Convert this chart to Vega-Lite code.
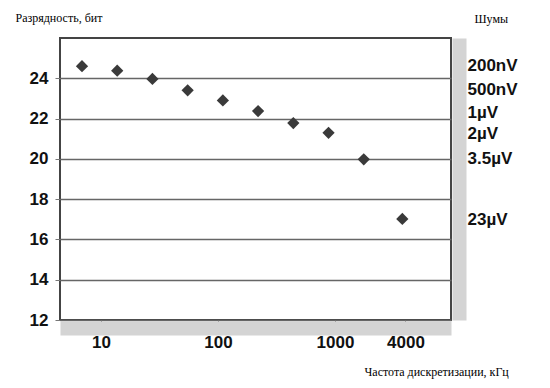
{
  "$schema": "https://vega.github.io/schema/vega-lite/v6.json",
  "width": 391,
  "height": 282,
  "autosize": "none",
  "padding": {"left": 60, "top": 38, "right": 99, "bottom": 68},
  "background": "white",
  "view": {"stroke": "#444444", "strokeWidth": 2},
  "config": {
    "axis": {
      "labelFont": "Liberation Sans",
      "labelFontWeight": "bold",
      "labelFontSize": 17,
      "labelColor": "#111111",
      "titleFont": "Liberation Serif",
      "titleFontWeight": "normal",
      "titleFontSize": 12,
      "titleColor": "#000000",
      "tickColor": "#777777"
    }
  },
  "data": {
    "values": [
      {"freq": 6.875, "bits": 24.6},
      {"freq": 13.75, "bits": 24.38},
      {"freq": 27.5, "bits": 23.97},
      {"freq": 55, "bits": 23.4},
      {"freq": 110, "bits": 22.9},
      {"freq": 220, "bits": 22.37},
      {"freq": 440, "bits": 21.78},
      {"freq": 880, "bits": 21.29},
      {"freq": 1760, "bits": 19.98},
      {"freq": 3760, "bits": 17.02}
    ]
  },
  "layer": [
    {
      "mark": {"type": "point", "shape": "diamond", "filled": true, "size": 150, "color": "#3a3a3a", "opacity": 1},
      "encoding": {
        "x": {
          "field": "freq", "type": "quantitative",
          "scale": {"type": "log", "domain": [4.46, 9800], "nice": false},
          "axis": {
            "values": [10, 100, 1000, 4000], "format": "d",
            "grid": false, "domain": false,
            "tickSize": 4, "labelPadding": 10,
            "title": "Частота дискретизации, кГц",
            "titleX": 304, "titleY": 51, "titleAlign": "left", "titleBaseline": "middle"
          }
        },
        "y": {
          "field": "bits", "type": "quantitative",
          "scale": {"domain": [12, 26], "nice": false, "zero": false},
          "axis": {
            "values": [12, 14, 16, 18, 20, 22, 24],
            "grid": true, "gridColor": "#666666", "gridWidth": 1.5,
            "domain": false, "tickSize": 5, "labelPadding": 7,
            "title": "Разрядность, бит",
            "titleAngle": 0, "titleX": -45, "titleY": -21,
            "titleAlign": "left", "titleBaseline": "middle"
          }
        }
      }
    },
    {
      "mark": {"type": "point", "shape": "diamond", "filled": true, "size": 150, "color": "#3a3a3a", "opacity": 0},
      "encoding": {
        "x": {
          "field": "freq", "type": "quantitative",
          "scale": {"type": "log", "domain": [4.46, 9800], "nice": false},
          "axis": {
            "orient": "bottom", "offset": 8, "domain": true,
            "domainColor": "#d4d4d4", "domainWidth": 14,
            "labels": false, "ticks": false, "grid": false, "title": null
          }
        },
        "y": {
          "field": "bits", "type": "quantitative",
          "scale": {"domain": [12, 26], "nice": false, "zero": false},
          "axis": {
            "orient": "right", "offset": 8,
            "values": [24.65, 23.45, 22.3, 21.25, 20, 17],
            "labelExpr": "datum.value == 24.65 ? '200nV' : datum.value == 23.45 ? '500nV' : datum.value == 22.3 ? '1µV' : datum.value == 21.25 ? '2µV' : datum.value == 20 ? '3.5µV' : '23µV'",
            "grid": false, "domain": true,
            "domainColor": "#d4d4d4", "domainWidth": 14,
            "tickSize": 3, "labelPadding": 5,
            "title": "Шумы",
            "titleAngle": 0, "titleX": 15, "titleY": -20,
            "titleAlign": "left", "titleBaseline": "middle"
          }
        }
      }
    }
  ],
  "resolve": {"axis": {"x": "independent", "y": "independent"}}
}
